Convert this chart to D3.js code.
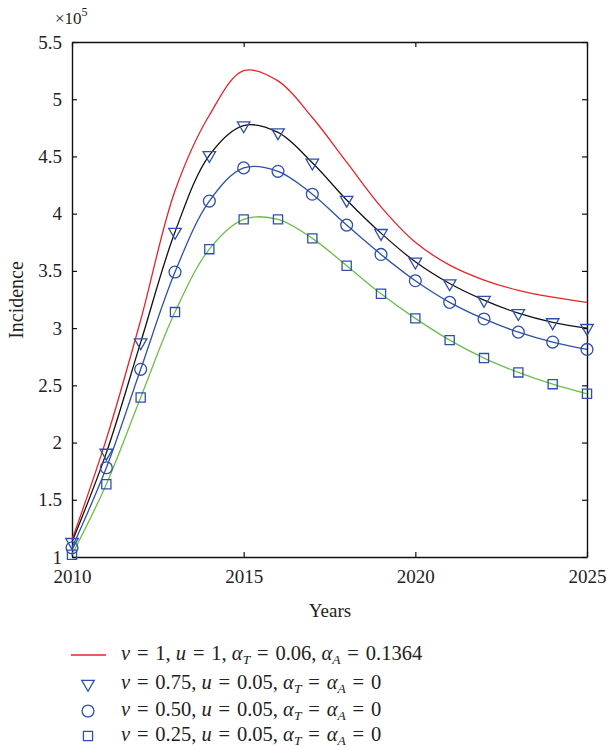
<!DOCTYPE html>
<html>
<head>
<meta charset="utf-8">
<script src="https://cdn.jsdelivr.net/npm/d3@7"></script>
<style>
  html, body { margin: 0; padding: 0; background: #fff; }
  svg { display: block; }
  text { font-family: "Liberation Serif", "DejaVu Serif", serif; fill: #222; }
</style>
</head>
<body>
<svg id="chart" width="608" height="748"></svg>
<script>
// ---- data (incidence in units of 10^5) ----
const years = [2010, 2011, 2012, 2013, 2014, 2015, 2016, 2017, 2018, 2019, 2020, 2021, 2022, 2023, 2024, 2025];
const redSeries      = [1.15, 2.03, 3.07, 4.20, 4.86, 5.25, 5.16, 4.84, 4.45, 4.06, 3.75, 3.55, 3.42, 3.33, 3.27, 3.225];
const triangleSeries = [1.13, 1.91, 2.875, 3.84, 4.51, 4.77, 4.71, 4.445, 4.12, 3.83, 3.58, 3.39, 3.245, 3.13, 3.05, 3.00];
const circleSeries   = [1.08, 1.78, 2.64, 3.49, 4.11, 4.40, 4.37, 4.17, 3.90, 3.644, 3.414, 3.225, 3.08, 2.965, 2.878, 2.814];
const squareSeries   = [1.02, 1.636, 2.394, 3.14, 3.69, 3.95, 3.95, 3.784, 3.545, 3.30, 3.085, 2.895, 2.738, 2.613, 2.51, 2.426];
const xTicks = [2010, 2015, 2020, 2025];
const yTicks = [1, 1.5, 2, 2.5, 3, 3.5, 4, 4.5, 5, 5.5];
const E = "\u2004=\u2004";
const legendLabels = [
  {type: "line",     parts: [["ν", "i"], [E + "1, "], ["u", "i"], [E + "1, "], ["α", "i"], ["T", "s"], [E + "0.06, "], ["α", "i"], ["A", "s"], [E + "0.1364"]]},
  {type: "triangle", parts: [["ν", "i"], [E + "0.75, "], ["u", "i"], [E + "0.05, "], ["α", "i"], ["T", "s"], [E], ["α", "i"], ["A", "s"], [E + "0"]]},
  {type: "circle",   parts: [["ν", "i"], [E + "0.50, "], ["u", "i"], [E + "0.05, "], ["α", "i"], ["T", "s"], [E], ["α", "i"], ["A", "s"], [E + "0"]]},
  {type: "square",   parts: [["ν", "i"], [E + "0.25, "], ["u", "i"], [E + "0.05, "], ["α", "i"], ["T", "s"], [E], ["α", "i"], ["A", "s"], [E + "0"]]}
];

// ---- layout ----
const L = 72, R = 587, T = 42, B = 557;
const RED = "#e8232a", BLACK = "#111", BLUE = "#2d50ab", GREEN = "#6dbe45", MARK = "#2e4fae";

const svg = d3.select("#chart");
const x = d3.scaleLinear().domain([2010, 2025]).range([L, R]);
const y = d3.scaleLinear().domain([1, 5.5]).range([B, T]);

const fmt = d => String(d);

// axes
const gB = svg.append("g").attr("transform", `translate(0,${B})`)
  .call(d3.axisBottom(x).tickValues(xTicks).tickFormat(d3.format("d")).tickSizeInner(-5).tickSizeOuter(0).tickPadding(13));
const gT = svg.append("g").attr("transform", `translate(0,${T})`)
  .call(d3.axisTop(x).tickValues(xTicks).tickFormat("").tickSizeInner(-5).tickSizeOuter(0));
const gL = svg.append("g").attr("transform", `translate(${L},0)`)
  .call(d3.axisLeft(y).tickValues(yTicks).tickFormat(fmt).tickSizeInner(-5).tickSizeOuter(0).tickPadding(10));
const gR = svg.append("g").attr("transform", `translate(${R},0)`)
  .call(d3.axisRight(y).tickValues(yTicks).tickFormat("").tickSizeInner(-5).tickSizeOuter(0));

[gB, gT, gL, gR].forEach(g => {
  g.select(".domain").attr("stroke", "#111").attr("stroke-width", 1.4);
  g.selectAll(".tick line").attr("stroke", "#111").attr("stroke-width", 1.2);
  g.selectAll(".tick text").attr("font-family", "Liberation Serif").attr("font-size", 19).attr("fill", "#222");
});

// lines
const line = (arr) => d3.line().x((d, i) => x(years[i])).y(d => y(d)).curve(d3.curveCatmullRom.alpha(0.5))(arr);
const plot = svg.append("g");
plot.append("path").attr("d", line(redSeries)).attr("fill", "none").attr("stroke", RED).attr("stroke-width", 1.3);
plot.append("path").attr("d", line(triangleSeries)).attr("fill", "none").attr("stroke", BLACK).attr("stroke-width", 1.3);
plot.append("path").attr("d", line(circleSeries)).attr("fill", "none").attr("stroke", BLUE).attr("stroke-width", 1.3);
plot.append("path").attr("d", line(squareSeries)).attr("fill", "none").attr("stroke", GREEN).attr("stroke-width", 1.3);

// markers
const triSym = d3.symbol().type(d3.symbolTriangle).size(68);
const circSym = d3.symbol().type(d3.symbolCircle).size(110);
const sqSym = d3.symbol().type(d3.symbolSquare).size(84);
function drawMarkers(arr, sym, rot) {
  plot.append("g").selectAll("path").data(arr).join("path")
    .attr("d", sym)
    .attr("transform", (d, i) => `translate(${x(years[i])},${y(d)}) rotate(${rot})`)
    .attr("fill", "none").attr("stroke", MARK).attr("stroke-width", 1.3);
}
drawMarkers(triangleSeries, triSym, 180);
drawMarkers(circleSeries, circSym, 0);
drawMarkers(squareSeries, sqSym, 0);

// axis labels
svg.append("text").attr("x", 330).attr("y", 617).attr("text-anchor", "middle").attr("font-size", 19).text("Years");
svg.append("text").attr("transform", "translate(23,300) rotate(-90)").attr("text-anchor", "middle").attr("font-size", 20).text("Incidence");
const mult = svg.append("text").attr("x", 55).attr("y", 24).attr("font-size", 17);
mult.append("tspan").text("×10");
mult.append("tspan").attr("dy", -8).attr("font-size", 12).text("5");

// legend
const legY = [655, 684, 711, 736];
const lg = svg.append("g");
legendLabels.forEach((item, k) => {
  const cy = legY[k];
  if (item.type === "line") {
    lg.append("line").attr("x1", 71).attr("x2", 106).attr("y1", cy).attr("y2", cy).attr("stroke", RED).attr("stroke-width", 1.3);
  } else {
    const sym = item.type === "triangle" ? triSym : item.type === "circle" ? circSym : sqSym;
    lg.append("path").attr("d", sym)
      .attr("transform", `translate(88,${cy}) rotate(${item.type === "triangle" ? 180 : 0})`)
      .attr("fill", "none").attr("stroke", MARK).attr("stroke-width", 1.3);
  }
  const t = lg.append("text").attr("x", 121).attr("y", cy + 5).attr("font-size", 20.5).attr("xml:space", "preserve");
  let shifted = false;
  item.parts.forEach(([s, style]) => {
    const ts = t.append("tspan").text(s);
    if (style === "i") ts.attr("font-style", "italic");
    if (style === "s") { ts.attr("font-style", "italic").attr("font-size", 13.5).attr("dy", 4); shifted = true; }
    else if (shifted) { ts.attr("dy", -4); shifted = false; }
  });
});
</script>
</body>
</html>
